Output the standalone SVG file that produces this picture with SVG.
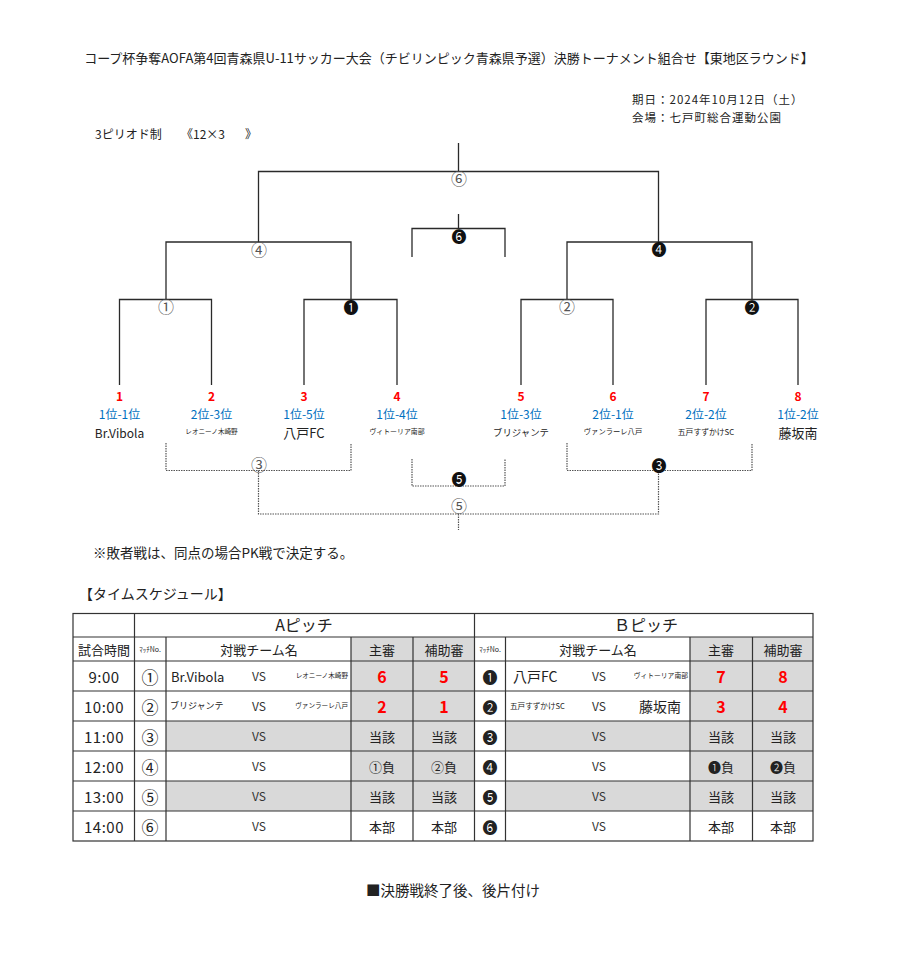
<svg xmlns="http://www.w3.org/2000/svg" width="899" height="973" viewBox="0 0 899 973">
<style>
text{font-family:"Noto Sans CJK JP","Noto Sans",sans-serif;fill:#222;dominant-baseline:central}
.m{text-anchor:middle}
.e{text-anchor:end}
.ln{fill:none;stroke:#2a2a2a;stroke-width:1.3}
.dt{fill:none;stroke:#555;stroke-width:1.2;stroke-dasharray:1.5 1}
.lbl{font-size:16px;text-anchor:middle;fill:#555}
.lblb{font-size:15px;text-anchor:middle;fill:#111}
.num{font-size:12px;font-weight:bold;fill:#FF0000;text-anchor:middle}
.seed{font-size:12px;fill:#0070C0;text-anchor:middle}
.nm{text-anchor:middle}
.g{fill:#D9D9D9}
.tl{stroke:#333;stroke-width:1.2;fill:none}
.ref{font-size:16px;font-weight:bold;fill:#FF0000;text-anchor:middle}
.c13{font-size:13px;text-anchor:middle}
.vs{font-size:12px;text-anchor:middle;fill:#333}
.tm{font-size:15px;text-anchor:middle;letter-spacing:0.5px}
.no{font-size:17px;text-anchor:middle}
.nob{font-size:15px;text-anchor:middle}
.dl{font-size:11.5px;letter-spacing:1px}
</style>
<rect width="899" height="973" fill="#fff"/>

<g id="header">
<text x="449" y="57" class="m" font-size="13">コープ杯争奪AOFA第4回青森県U-11サッカー大会（チビリンピック青森県予選）決勝トーナメント組合せ【東地区ラウンド】</text>
<text class="dl" x="632" y="99">期日：2024年10月12日（土）</text>
<text class="dl" x="632" y="116.5">会場：七戸町総合運動公園</text>
<text y="133" font-size="12"><tspan x="95">3ピリオド制</tspan><tspan x="181">《12×3</tspan><tspan x="245">》</tspan></text>
</g>

<g id="connectors">
<path class="ln" d="M458.5 143V171.5M258.5 242V171.5H658.5V242"/>
<path class="ln" d="M166 299V242H351V299M567 299V242H752V299"/>
<path class="ln" d="M119.5 385V299.5H211.5V385M304 385V299.5H397V385M521 385V299.5H613V385M706 385V299.5H798V385"/>
<path class="ln" d="M458.5 214V228.5M412 257V228.5H505V257"/>
<path class="dt" d="M166 443V470.5H351V443M567 443V470.5H752V443M412 459V486H505V459M258.5 470.5V514H658.5V470.5M458.5 514V530"/>
</g>

<g id="match-labels">
<text class="lbl" x="459" y="178">⑥</text>
<text class="lblb" x="459" y="235">❻</text>
<text class="lbl" x="259" y="249">④</text>
<text class="lblb" x="659" y="248">❹</text>
<text class="lbl" x="166" y="306">①</text>
<text class="lblb" x="351" y="306">❶</text>
<text class="lbl" x="567" y="306">②</text>
<text class="lblb" x="752" y="306">❷</text>
<text class="lbl" x="259" y="464">③</text>
<text class="lblb" x="659" y="464">❸</text>
<text class="lblb" x="459" y="478">❺</text>
<text class="lbl" x="459" y="505">⑤</text>
</g>

<g id="team1"><text class="num" x="119.5" y="395">1</text><text class="seed" x="119.5" y="413">1位-1位</text><text class="nm" x="119.5" y="432" font-size="12">Br.Vibola</text></g>
<g id="team2"><text class="num" x="211.5" y="395">2</text><text class="seed" x="211.5" y="413">2位-3位</text><text class="nm" x="211.5" y="431" font-size="6.6">レオニーノ木崎野</text></g>
<g id="team3"><text class="num" x="304" y="395">3</text><text class="seed" x="304" y="413">1位-5位</text><text class="nm" x="304" y="432" font-size="13">八戸FC</text></g>
<g id="team4"><text class="num" x="397" y="395">4</text><text class="seed" x="397" y="413">1位-4位</text><text class="nm" x="397" y="431" font-size="6.9">ヴィトーリア南部</text></g>
<g id="team5"><text class="num" x="521" y="395">5</text><text class="seed" x="521" y="413">1位-3位</text><text class="nm" x="521" y="432" font-size="9.4">ブリジャンテ</text></g>
<g id="team6"><text class="num" x="613" y="395">6</text><text class="seed" x="613" y="413">2位-1位</text><text class="nm" x="613" y="431" font-size="7.3">ヴァンラーレ八戸</text></g>
<g id="team7"><text class="num" x="706" y="395">7</text><text class="seed" x="706" y="413">2位-2位</text><text class="nm" x="706" y="431" font-size="7.8">五戸すずかけSC</text></g>
<g id="team8"><text class="num" x="798" y="395">8</text><text class="seed" x="798" y="413">1位-2位</text><text class="nm" x="798" y="432" font-size="13">藤坂南</text></g>

<g id="notes">
<text x="93" y="552" font-size="13.5">※敗者戦は、同点の場合PK戦で決定する。</text>
<text x="79" y="593" font-size="14">【タイムスケジュール】</text>
<text x="453" y="889" class="m" font-size="14.5">■決勝戦終了後、後片付け</text>
</g>

<g id="schedule">
<g id="fills">
<rect class="g" x="351" y="637" width="123.5" height="174"/>
<rect class="g" x="690" y="637" width="123" height="174"/>
<rect class="g" x="166" y="721" width="185" height="30"/>
<rect class="g" x="505.5" y="721" width="184.5" height="30"/>
<rect class="g" x="166" y="781" width="185" height="30"/>
<rect class="g" x="505.5" y="781" width="184.5" height="30"/>
</g>
<g id="grid">
<rect class="tl" x="73" y="613.5" width="740" height="227.5" stroke-width="1.5"/>
<path class="tl" d="M73 637H813M73 661H813M73 691H813M73 721H813M73 751H813M73 781H813M73 811H813"/>
<path class="tl" d="M134.5 613.5V841M474.5 613.5V841M166 637V841M351 637V841M413 637V841M505.5 637V841M690 637V841M752.5 637V841"/>
</g>
<g id="cells">
<text x="304" y="624" class="m" font-size="16">Aピッチ</text>
<text x="646" y="624" class="m" font-size="16">Ｂピッチ</text>
<text x="104" y="649" class="c13">試合時間</text>
<text x="150" y="649" class="m" font-size="7">ﾏｯﾁNo.</text>
<text x="259" y="649" class="c13">対戦チーム名</text>
<text x="382" y="649" class="c13">主審</text>
<text x="444" y="649" class="c13">補助審</text>
<text x="490" y="649" class="m" font-size="7">ﾏｯﾁNo.</text>
<text x="598" y="649" class="c13">対戦チーム名</text>
<text x="721" y="649" class="c13">主審</text>
<text x="783" y="649" class="c13">補助審</text>

<text x="104" y="676" class="tm">9:00</text>
<text x="150" y="676" class="no">①</text>
<text x="171" y="676" font-size="13">Br.Vibola</text>
<text x="259" y="675" class="vs">VS</text>
<text x="348" y="675" class="e" font-size="6.6">レオニーノ木崎野</text>
<text x="382" y="676" class="ref">6</text>
<text x="444" y="676" class="ref">5</text>
<text x="490" y="676" class="nob">❶</text>
<text x="513" y="676" font-size="14">八戸FC</text>
<text x="599" y="675" class="vs">VS</text>
<text x="688" y="675" class="e" font-size="6.8">ヴィトーリア南部</text>
<text x="721" y="676" class="ref">7</text>
<text x="783" y="676" class="ref">8</text>

<text x="104" y="706" class="tm">10:00</text>
<text x="150" y="706" class="no">②</text>
<text x="170" y="705" font-size="9">ブリジャンテ</text>
<text x="259" y="705" class="vs">VS</text>
<text x="348" y="705" class="e" font-size="6.6">ヴァンラーレ八戸</text>
<text x="382" y="706" class="ref">2</text>
<text x="444" y="706" class="ref">1</text>
<text x="490" y="706" class="nob">❷</text>
<text x="510" y="705" font-size="7.6">五戸すずかけSC</text>
<text x="599" y="705" class="vs">VS</text>
<text x="681" y="706" class="e" font-size="14">藤坂南</text>
<text x="721" y="706" class="ref">3</text>
<text x="783" y="706" class="ref">4</text>

<text x="104" y="736" class="tm">11:00</text>
<text x="150" y="736" class="no">③</text>
<text x="259" y="735" class="vs" font-size="11">VS</text>
<text x="382" y="736" class="c13">当該</text>
<text x="444" y="736" class="c13">当該</text>
<text x="490" y="736" class="nob">❸</text>
<text x="599" y="735" class="vs" font-size="11">VS</text>
<text x="721" y="736" class="c13">当該</text>
<text x="783" y="736" class="c13">当該</text>

<text x="104" y="766" class="tm">12:00</text>
<text x="150" y="766" class="no">④</text>
<text x="259" y="765" class="vs" font-size="11">VS</text>
<text x="382" y="766" class="c13">①負</text>
<text x="444" y="766" class="c13">②負</text>
<text x="490" y="766" class="nob">❹</text>
<text x="599" y="765" class="vs" font-size="11">VS</text>
<text x="721" y="766" class="c13">❶負</text>
<text x="783" y="766" class="c13">❷負</text>

<text x="104" y="796" class="tm">13:00</text>
<text x="150" y="796" class="no">⑤</text>
<text x="259" y="795" class="vs" font-size="11">VS</text>
<text x="382" y="796" class="c13">当該</text>
<text x="444" y="796" class="c13">当該</text>
<text x="490" y="796" class="nob">❺</text>
<text x="599" y="795" class="vs" font-size="11">VS</text>
<text x="721" y="796" class="c13">当該</text>
<text x="783" y="796" class="c13">当該</text>

<text x="104" y="826" class="tm">14:00</text>
<text x="150" y="826" class="no">⑥</text>
<text x="259" y="825" class="vs" font-size="11">VS</text>
<text x="382" y="826" class="c13">本部</text>
<text x="444" y="826" class="c13">本部</text>
<text x="490" y="826" class="nob">❻</text>
<text x="599" y="825" class="vs" font-size="11">VS</text>
<text x="721" y="826" class="c13">本部</text>
<text x="783" y="826" class="c13">本部</text>
</g>
</g>
</svg>
